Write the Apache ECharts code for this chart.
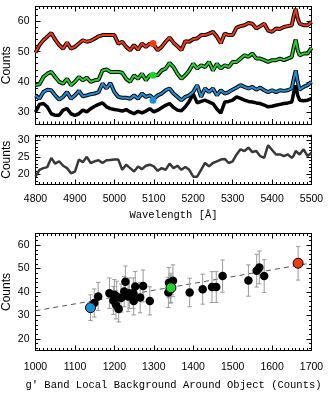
<!DOCTYPE html>
<html><head><meta charset="utf-8">
<script src="https://cdn.jsdelivr.net/npm/echarts@6/dist/echarts.min.js"></script>
<style>html,body{margin:0;padding:0;background:#fff}#c{width:330px;height:397px}</style>
</head><body><div id="c"></div>
<script>
// ---------- data ----------
const WAVELENGTH = [4800,4810,4820,4830,4840,4850,4860,4870,4880,4890,4900,4910,4920,4930,4940,4950,4960,4970,4980,4990,5000,5010,5020,5030,5040,5050,5060,5070,5080,5090,5100,5110,5120,5130,5140,5150,5160,5170,5180,5190,5200,5210,5220,5230,5240,5250,5260,5270,5280,5290,5300,5310,5320,5330,5340,5350,5360,5370,5380,5390,5400,5410,5420,5430,5440,5450,5455,5460,5465,5470,5480,5490,5500];
const RED_SPEC = [49.7,52.2,53.8,55,56.2,54,52.2,51,53,51,51.6,52.7,53.8,53.3,53.6,54.3,55.1,55.5,55.5,55.5,55.5,52.7,53.3,51.6,50.5,52.2,50.7,52.7,51.6,52.7,52.2,50.5,51.6,53.3,54.7,53,51.8,50.5,53.5,53.3,54.2,54.4,55.5,55.5,56,56.6,55,52.8,56,55.5,55.5,58,58.5,58.8,59.5,59.3,57.7,58.5,59.3,57,56.6,57.7,57.5,58.2,58.5,58.8,62,64.2,61,59.3,58.8,58.8,59.9];
const GREEN_SPEC = [38.9,39.2,41.6,42.7,43.3,41.6,40,39.4,41,38.9,40,41.6,40.5,41.4,40,40.5,40.7,43.8,44.1,43.3,43.3,43.3,43,41,40,42.2,41,42.7,40.5,42.2,42.2,42.2,43.8,44.4,46.3,44.9,42.7,41,42.2,43.8,46,44.4,45.5,44.9,46.6,43.8,46,44.4,45.5,44.9,46.6,46.6,47.7,48.8,48.3,49.4,47.7,47.7,47.2,46.6,47.2,47.2,47.7,47.2,47.7,48.3,51.6,54,50.5,48.8,49.4,49.4,51.3];
const BLUE_SPEC = [35.5,34.4,36.6,37.4,37.2,35.5,34.1,35,36.6,34.4,35.5,37,35.2,35.5,35.9,36.1,36.6,39.4,37.8,39.6,36.6,35,34.7,34.7,34.4,35.5,34.4,36.1,35,35.5,34.4,35.5,36.1,37.2,37.8,36.1,35,33.9,35,35.5,36.6,38.9,35,37.8,36.6,37.8,35.5,37.2,36.1,36.6,37.4,38.1,38.9,38.3,37.8,38.3,37.4,38.1,37.2,36.6,37.2,36.6,37.2,37,37.2,37.8,41,43.8,40,37.4,38.3,38.9,40];
const BLACK_SPEC = [30,32.5,32.8,31.7,29.4,28.9,28.9,30.6,31.1,29.4,28.9,29.4,30.6,30,31.1,31.9,32.5,33,31.7,31.1,30.8,30.6,30.3,30.8,30,29.4,30.2,29.7,30.3,31.1,30,30.6,31.4,32.2,32.8,31.5,30.6,30.4,31.7,33.5,36,33,33.5,33.9,33.3,32.8,31,29.6,33.3,33.5,33.9,35,34.5,33.9,33.5,33.3,33,32.8,32.3,31.7,31.9,32.2,32.5,32.8,33,33.3,36.5,38.8,35.5,33.9,33.7,33.9,34.4];
const GRAY_SPEC = [19.3,21.3,21.8,22.1,24.8,23.1,23.8,22.5,21.8,20.3,20.8,24.3,23.5,25.1,23.3,23.8,24.1,23.3,24.1,24.2,24.3,24.3,21.3,22.8,21.8,20.8,22.3,21.5,22.5,22.8,22.3,21,21.8,21.3,23.1,21.8,22.5,21.3,22.1,21.3,19.3,19.3,21.3,23.3,22.3,23.3,23.8,24.3,24.5,23.3,23.8,25.8,27.3,26.8,27.8,26.5,26.8,25.3,24.8,28.5,27.1,25.8,25.8,25.3,25.8,24.8,25.5,26.8,26.3,25.8,27.3,25.3,26.3];
// markers on spectra
const MARK_WL = 5098;
const MARK_RED = 52.7, MARK_GREEN = 42.2, MARK_BLUE = 33.9;

// bottom panel: background vs counts
const BG_X = [1149,1159,1187.5,1197.6,1200,1204,1206,1211,1217,1225,1228,1235,1238,1248,1249,1253,1265.5,1273,1290,1337,1338.5,1342,1348.6,1391,1424,1447.6,1458.5,1474.5,1540,1561,1567.6,1580];
const BG_Y = [35.3,38.1,39.5,36.4,38.8,34.5,38.1,32.7,37.4,40.2,44.4,38.1,39.5,39.5,36.2,42.3,37.6,42.6,36.2,39.8,44,41.2,44.8,39.8,41.2,42.1,42.1,46.8,44.9,49.1,50.5,46.8];
const BG_ERR = [6,6,6.5,6,6.5,6,6.5,5.5,6,6.5,6.7,6.5,6.5,6.5,6,6.5,6.5,6.8,6,6.5,6.5,6,6.8,6.1,6.4,6.6,6.6,6.9,6.7,7,7,7];
const BLUE_PT = [1139.5, 33.3, 5.5];
const GREEN_PT = [1343.5, 41.8, 6.2];
const RED_PT = [1666, 52.3, 7.2];
const FIT_X = [1000, 1700];
const FIT_Y = [32.0, 52.4];

// tick labels
const P1_Y_TICKS = [30,40,50,60];
const P2_Y_TICKS = [20,25,30];
const P3_Y_TICKS = [20,30,40,50,60];
const WL_TICKS = [4800,4900,5000,5100,5200,5300,5400,5500];
const BG_TICKS = [1000,1100,1200,1300,1400,1500,1600,1700];

// ---------- helpers ----------
function steps(a,b,s){const r=[];for(let v=a;v<=b+1e-9;v+=s)r.push(Math.round(v*1000)/1000);return r;}
const SANS='Liberation Sans', MONO='Liberation Mono';
const MAJ=5, MIN=2.5;
const plain=v=>String(v);
function xAxes(g,min,max,majors,minors,showLab,name,nameGap,labMargin){
  const b={type:'value',gridIndex:g,min,max,splitLine:{show:false},axisPointer:{show:false}};
  const line={show:true,onZero:false,lineStyle:{color:'#000',width:1}};
  return [
    Object.assign({},b,{position:'bottom',axisLine:line,axisTick:{show:true,inside:true,length:MAJ,customValues:majors,lineStyle:{color:'#000'}},
      axisLabel:{show:showLab,customValues:majors,formatter:plain,color:'#000',fontFamily:SANS,fontSize:10.5,margin:labMargin||10},
      name:name||'',nameLocation:'middle',nameGap:nameGap||0,nameMoveOverlap:false,nameTextStyle:{fontFamily:MONO,fontSize:10.5,color:'#000'}}),
    Object.assign({},b,{position:'bottom',axisLine:{show:false,onZero:false},axisTick:{show:true,inside:true,length:MIN,customValues:minors,lineStyle:{color:'#000'}},axisLabel:{show:false}}),
    Object.assign({},b,{position:'top',axisLine:line,axisTick:{show:true,inside:true,length:MAJ,customValues:majors,lineStyle:{color:'#000'}},axisLabel:{show:false}}),
    Object.assign({},b,{position:'top',axisLine:{show:false,onZero:false},axisTick:{show:true,inside:true,length:MIN,customValues:minors,lineStyle:{color:'#000'}},axisLabel:{show:false}})
  ];
}
function yAxes(g,min,max,majors,minors,nameGap){
  const b={type:'value',gridIndex:g,min,max,splitLine:{show:false},axisPointer:{show:false}};
  const line={show:true,onZero:false,lineStyle:{color:'#000',width:1}};
  return [
    Object.assign({},b,{position:'left',axisLine:line,axisTick:{show:true,inside:true,length:MAJ,customValues:majors,lineStyle:{color:'#000'}},
      axisLabel:{show:true,customValues:majors,formatter:plain,color:'#000',fontFamily:SANS,fontSize:10.5,margin:6},
      name:'Counts',nameLocation:'middle',nameGap:nameGap,nameMoveOverlap:false,nameTextStyle:{fontFamily:SANS,fontSize:12,color:'#000'}}),
    Object.assign({},b,{position:'left',axisLine:{show:false,onZero:false},axisTick:{show:true,inside:true,length:MIN,customValues:minors,lineStyle:{color:'#000'}},axisLabel:{show:false}}),
    Object.assign({},b,{position:'right',axisLine:line,axisTick:{show:true,inside:true,length:MAJ,customValues:majors,lineStyle:{color:'#000'}},axisLabel:{show:false}}),
    Object.assign({},b,{position:'right',axisLine:{show:false,onZero:false},axisTick:{show:true,inside:true,length:MIN,customValues:minors,lineStyle:{color:'#000'}},axisLabel:{show:false}})
  ];
}
const zip=(xs,ys)=>xs.map((x,i)=>[x,ys[i]]);

const RED='#f03a14', GREEN='#22d12a', BLUE='#1d8fd6';

const xAxis=[].concat(
  xAxes(0,4800,5500,WL_TICKS,steps(4800,5500,10),false),
  xAxes(1,4800,5500,WL_TICKS,steps(4800,5500,10),true,'Wavelength [Å]',25,9),
  xAxes(2,1000,1700,BG_TICKS,steps(1000,1700,10),true,"g' Band Local Background Around Object (Counts)",29,11)
);
const yAxis=[].concat(
  yAxes(0,26,65,P1_Y_TICKS,steps(26,64,2),22.5),
  yAxes(1,17,31.5,P2_Y_TICKS,steps(17,31,1),22.5),
  yAxes(2,15,65,P3_Y_TICKS,steps(16,64,2),22.5)
);

function specPair(data,color){
  return [
    {type:'line',xAxisIndex:0,yAxisIndex:0,data,showSymbol:false,lineStyle:{color:'#000',width:4},z:2,silent:true},
    {type:'line',xAxisIndex:0,yAxisIndex:0,data,showSymbol:false,lineStyle:{color,width:2},z:3,silent:true}
  ];
}
const series=[
  {type:'line',xAxisIndex:0,yAxisIndex:0,data:zip(WAVELENGTH,BLACK_SPEC),showSymbol:false,lineStyle:{color:'#000',width:3.5},z:2},
  ...specPair(zip(WAVELENGTH,BLUE_SPEC),BLUE),
  ...specPair(zip(WAVELENGTH,GREEN_SPEC),GREEN),
  ...specPair(zip(WAVELENGTH,RED_SPEC),RED),
  {type:'scatter',xAxisIndex:0,yAxisIndex:0,symbolSize:7,z:4,
    data:[{value:[MARK_WL,MARK_RED],itemStyle:{color:RED,opacity:1}},{value:[MARK_WL,MARK_GREEN],itemStyle:{color:GREEN,opacity:1}},{value:[MARK_WL,MARK_BLUE],itemStyle:{color:BLUE,opacity:1}}]},
  {type:'line',xAxisIndex:4,yAxisIndex:4,data:zip(WAVELENGTH,GRAY_SPEC),showSymbol:false,lineStyle:{color:'#383838',width:2.5}},
  // fit
  {type:'line',xAxisIndex:8,yAxisIndex:8,data:zip(FIT_X,FIT_Y),showSymbol:false,lineStyle:{color:'#555',width:1,type:[5,4]},z:1},
  // error bars
  {type:'custom',xAxisIndex:8,yAxisIndex:8,z:2,
    data:BG_X.map((x,i)=>[x,BG_Y[i],BG_ERR[i]]).concat([BLUE_PT,GREEN_PT,RED_PT]),
    renderItem:function(params,api){
      const x=api.value(0),y=api.value(1),e=api.value(2);
      const t=api.coord([x,y+e]),b=api.coord([x,y-e]);const c=2.2;
      const st={stroke:'#9a9a9a',lineWidth:1};
      return {type:'group',children:[
        {type:'line',shape:{x1:t[0],y1:t[1],x2:b[0],y2:b[1]},style:st},
        {type:'line',shape:{x1:t[0]-c,y1:t[1],x2:t[0]+c,y2:t[1]},style:st},
        {type:'line',shape:{x1:b[0]-c,y1:b[1],x2:b[0]+c,y2:b[1]},style:st}
      ]};
    }},
  {type:'scatter',xAxisIndex:8,yAxisIndex:8,z:3,symbolSize:8.5,itemStyle:{color:'#000',opacity:1},data:zip(BG_X,BG_Y)},
  {type:'scatter',xAxisIndex:8,yAxisIndex:8,z:4,symbolSize:10,itemStyle:{borderColor:'#000',borderWidth:1,opacity:1},
    data:[{value:[BLUE_PT[0],BLUE_PT[1]],itemStyle:{color:BLUE}},{value:[GREEN_PT[0],GREEN_PT[1]],itemStyle:{color:GREEN}},{value:[RED_PT[0],RED_PT[1]],itemStyle:{color:RED}}]}
];

const chart=echarts.init(document.getElementById('c'),null,{renderer:'canvas'});
chart.setOption({
  animation:false,
  backgroundColor:'#fff',
  grid:[
    {left:35.5,right:18.5,top:6.5,height:117.5,outerBoundsMode:'none'},
    {left:35.5,right:18.5,top:135,height:49.5,outerBoundsMode:'none'},
    {left:35.5,right:18.5,top:233.5,height:117,outerBoundsMode:'none'}
  ],
  xAxis, yAxis, series
});
</script></body></html>
